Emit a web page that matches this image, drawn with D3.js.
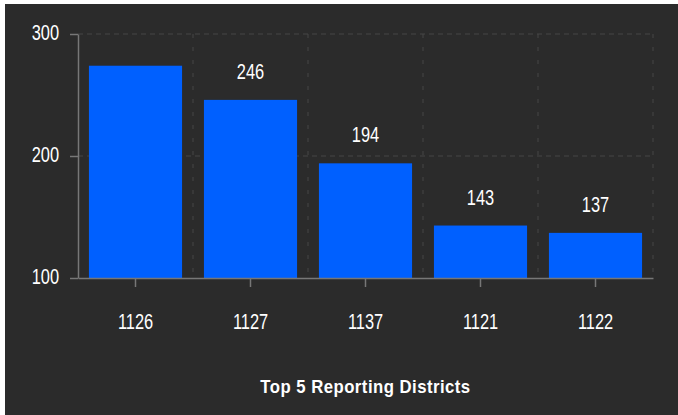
<!DOCTYPE html>
<html>
<head>
<meta charset="utf-8">
<script src="https://d3js.org/d3.v7.min.js"></script>
<style>
  body { margin: 0; background: #fff; }
  text { font-family: "Liberation Sans", Arial, sans-serif; }
</style>
</head>
<body>
<div class="canvas"></div>
<script>
// data
const districts = ['1126', '1127', '1137', '1121', '1122']
const reports = [274, 246, 194, 143, 137]
const yTicks = [100, 200, 300]
const title = 'Top 5 Reporting Districts'

const dims = { width: 678, height: 415 }
const plot = { left: 78, right: 653, top: 34, bottom: 278 }

// the screenshot font is tall & condensed, so squeeze the text a bit
const squeeze = 'scale(0.82, 1.1)'
const numSize = 20
const capHalf = 8   // half of the scaled cap height, to centre numbers

const svg = d3.select('.canvas')
    .append('svg')
    .attr('width', dims.width)
    .attr('height', dims.height)

// dark panel (thin white strip left/top like the screenshot)
svg.append('rect')
    .attr('x', 5).attr('y', 4)
    .attr('width', dims.width - 5).attr('height', dims.height - 4)
    .attr('fill', '#2b2b2b')

const x = d3.scaleBand()
    .domain(districts)
    .range([plot.left, plot.right])
    .paddingInner(0.19)
    .paddingOuter(0.095)

const y = d3.scaleLinear()
    .domain([100, 300])
    .range([plot.bottom, plot.top])

const gap = x.step() * x.paddingInner()

// grid
const grid = svg.append('g')
grid.selectAll('line.h')
    .data(yTicks.filter(t => t > 100))
    .enter().append('line')
        .attr('x1', plot.left).attr('x2', plot.right)
        .attr('y1', d => y(d)).attr('y2', d => y(d))
        .attr('stroke', '#474747')
        .attr('stroke-dasharray', '5,4')
grid.selectAll('line.v')
    .data(districts)
    .enter().append('line')
        .attr('x1', d => x(d) + x.bandwidth() + gap / 2)
        .attr('x2', d => x(d) + x.bandwidth() + gap / 2)
        .attr('y1', plot.top).attr('y2', plot.bottom)
        .attr('stroke', '#474747')
        .attr('stroke-dasharray', '4,9')

// bars
const data = districts.map((d, i) => ({ name: d, value: reports[i] }))

svg.append('g').selectAll('rect')
    .data(data)
    .enter().append('rect')
        .attr('x', d => x(d.name))
        .attr('y', d => y(d.value))
        .attr('width', x.bandwidth())
        .attr('height', d => y(100) - y(d.value))
        .attr('fill', '#0060ff')

// value labels (only where they fit under the top of the plot)
svg.append('g').selectAll('text')
    .data(data.filter(d => y(d.value) - 38 >= plot.top))
    .enter().append('text')
        .attr('transform', d =>
            `translate(${x(d.name) + x.bandwidth() / 2}, ${y(d.value) - 29 + capHalf}) ${squeeze}`)
        .attr('text-anchor', 'middle')
        .attr('fill', '#fff')
        .attr('font-size', numSize)
        .text(d => d.value)

// axes
const yAxis = d3.axisLeft(y)
    .tickValues(yTicks)
    .tickSize(8)
    .tickSizeOuter(0)

const xAxis = d3.axisBottom(x)
    .tickSize(9)
    .tickSizeOuter(0)

const yG = svg.append('g')
    .attr('transform', `translate(${plot.left}, 0)`)
    .call(yAxis)
const xG = svg.append('g')
    .attr('transform', `translate(0, ${plot.bottom})`)
    .call(xAxis)

;[yG, xG].forEach(g => {
    g.select('.domain').attr('stroke', '#777').attr('stroke-width', 1.5)
    g.selectAll('.tick line').attr('stroke', '#777').attr('stroke-width', 1.5)
    g.selectAll('.tick text')
        .attr('fill', '#fff')
        .attr('font-size', numSize)
        .attr('font-family', '"Liberation Sans", Arial, sans-serif')
        .attr('x', 0).attr('y', 0).attr('dy', 0)
})
yG.selectAll('.tick text')
    .attr('transform', `translate(-19, ${-3 + capHalf}) ${squeeze}`)
xG.selectAll('.tick text')
    .attr('transform', `translate(0, ${321 - plot.bottom + capHalf}) ${squeeze}`)

// title
svg.append('text')
    .attr('transform', `translate(${(plot.left + plot.right) / 2}, 393) scale(0.93, 1)`)
    .attr('text-anchor', 'middle')
    .attr('fill', '#fff')
    .attr('font-size', 18)
    .attr('font-weight', 'bold')
    .attr('letter-spacing', 0.5)
    .text(title)
</script>
</body>
</html>
